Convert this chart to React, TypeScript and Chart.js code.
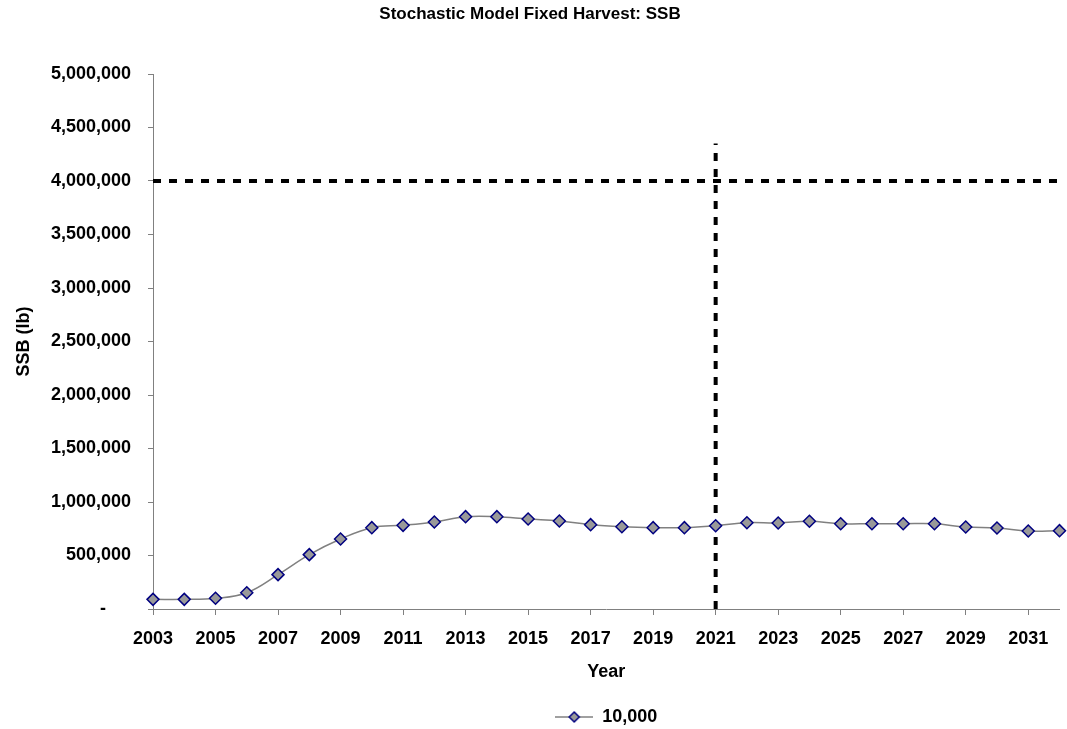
import React, { useEffect, useRef } from "react";
import { Chart, registerables } from "chart.js";

Chart.register(...registerables);

const years = [
  2003, 2004, 2005, 2006, 2007, 2008, 2009, 2010, 2011, 2012,
  2013, 2014, 2015, 2016, 2017, 2018, 2019, 2020, 2021, 2022,
  2023, 2024, 2025, 2026, 2027, 2028, 2029, 2030, 2031, 2032,
];
const ssb10000 = [
  90000, 90000, 100000, 152000, 321000, 508000, 654000, 760000, 782000, 813000,
  863000, 863000, 841000, 822000, 788000, 769000, 760000, 760000, 778000, 806000,
  804000, 820000, 797000, 797000, 797000, 797000, 766000, 757000, 729000, 732000,
];
const xTickYears = [2003, 2005, 2007, 2009, 2011, 2013, 2015, 2017, 2019, 2021, 2023, 2025, 2027, 2029, 2031];
const targetSSB = 4000000;
const refYear = 2021;
const refLineTop = 4350000;
const seriesLabel = "10,000";

const FONT = "'Liberation Sans', Arial, sans-serif";

function makeLegendIcon(): HTMLCanvasElement {
  const c = document.createElement("canvas");
  c.width = 38;
  c.height = 14;
  const g = c.getContext("2d")!;
  g.strokeStyle = "#808080";
  g.lineWidth = 1.5;
  g.beginPath();
  g.moveTo(0, 7);
  g.lineTo(38, 7);
  g.stroke();
  g.beginPath();
  g.moveTo(19, 2);
  g.lineTo(24, 7);
  g.lineTo(19, 12);
  g.lineTo(14, 7);
  g.closePath();
  g.fillStyle = "#999999";
  g.fill();
  g.strokeStyle = "#000080";
  g.lineWidth = 1.5;
  g.stroke();
  return c;
}

export default function App() {
  const ref = useRef<HTMLCanvasElement | null>(null);

  useEffect(() => {
    if (!ref.current) return;
    Chart.defaults.font.family = FONT;
    Chart.defaults.color = "#000";
    const icon = makeLegendIcon();
    const chart = new Chart(ref.current, {
      type: "line",
      data: {
        datasets: [
          {
            label: seriesLabel,
            data: years.map((y, i) => ({ x: y, y: ssb10000[i] })),
            borderColor: "#808080",
            borderWidth: 1.5,
            tension: 0.4,
            pointStyle: "rectRot",
            pointRadius: 6,
            pointBackgroundColor: "#999999",
            pointBorderColor: "#000080",
            pointBorderWidth: 1.5,
            clip: false,
            order: 0,
          },
          {
            label: "target",
            data: [
              { x: years[0], y: targetSSB },
              { x: years[years.length - 1], y: targetSSB },
            ],
            borderColor: "#000",
            borderWidth: 4,
            borderDash: [8, 8],
            pointRadius: 0,
            tension: 0,
            order: 1,
          },
          {
            label: "year",
            data: [
              { x: refYear, y: 0 },
              { x: refYear, y: refLineTop },
            ],
            borderColor: "#000",
            borderWidth: 4,
            borderDash: [8, 8],
            pointRadius: 0,
            tension: 0,
            order: 1,
          },
        ],
      },
      options: {
        animation: false,
        responsive: false,
        maintainAspectRatio: false,
        layout: { padding: { left: 0, right: 7, top: 0, bottom: 0 } },
        plugins: {
          tooltip: { enabled: false },
          title: {
            display: true,
            text: "Stochastic Model Fixed Harvest: SSB",
            color: "#000",
            font: { size: 17, weight: "bold", family: FONT },
            padding: { top: 4, bottom: 49.6 },
          },
          legend: {
            display: true,
            position: "bottom",
            fullSize: false,
            maxHeight: 31,
            labels: {
              usePointStyle: true,
              pointStyleWidth: 38,
              padding: 10,
              color: "#000",
              font: { size: 18, weight: "bold", family: FONT },
              generateLabels: () => [
                {
                  text: seriesLabel,
                  pointStyle: icon as any,
                  fillStyle: "#999999",
                  strokeStyle: "#000080",
                  lineWidth: 0,
                  hidden: false,
                  datasetIndex: 0,
                  fontColor: "#000",
                } as any,
              ],
            },
          },
        },
        scales: {
          x: {
            type: "linear",
            min: years[0],
            max: years[years.length - 1],
            afterBuildTicks: (scale: any) => {
              scale.ticks = xTickYears.map((v) => ({ value: v }));
            },
            afterFit: (scale: any) => {
              scale.height = 89;
            },
            border: { color: "#808080", width: 1 },
            grid: { drawOnChartArea: false, drawTicks: true, tickLength: 6, color: "#808080" },
            ticks: {
              autoSkip: false,
              maxRotation: 0,
              padding: 13,
              color: "#000",
              font: { size: 18, weight: "bold", family: FONT },
              callback: (v: any) => String(v),
            },
            title: {
              display: true,
              text: "Year",
              color: "#000",
              font: { size: 18, weight: "bold", family: FONT },
              padding: { top: 0, bottom: 15 },
            },
          },
          y: {
            type: "linear",
            min: 0,
            max: 5000000,
            afterFit: (scale: any) => {
              scale.width = 153;
            },
            border: { color: "#808080", width: 1 },
            grid: { drawOnChartArea: false, drawTicks: true, tickLength: 5, color: "#808080" },
            ticks: {
              stepSize: 500000,
              padding: 17,
              color: "#000",
              font: { size: 18, weight: "bold", family: FONT },
              callback: (v: any) => (Number(v) === 0 ? "-     " : Number(v).toLocaleString("en-US")),
            },
            title: {
              display: true,
              text: "SSB (lb)",
              color: "#000",
              font: { size: 18, weight: "bold", family: FONT },
              padding: { top: 13, bottom: 0 },
            },
          },
        },
      },
    });
    return () => chart.destroy();
  }, []);

  return (
    <div style={{ position: "fixed", left: 0, top: 0, width: 1067, height: 729, background: "#fff" }}>
      <canvas ref={ref} width={1067} height={729} style={{ display: "block", width: 1067, height: 729 }} />
    </div>
  );
}
